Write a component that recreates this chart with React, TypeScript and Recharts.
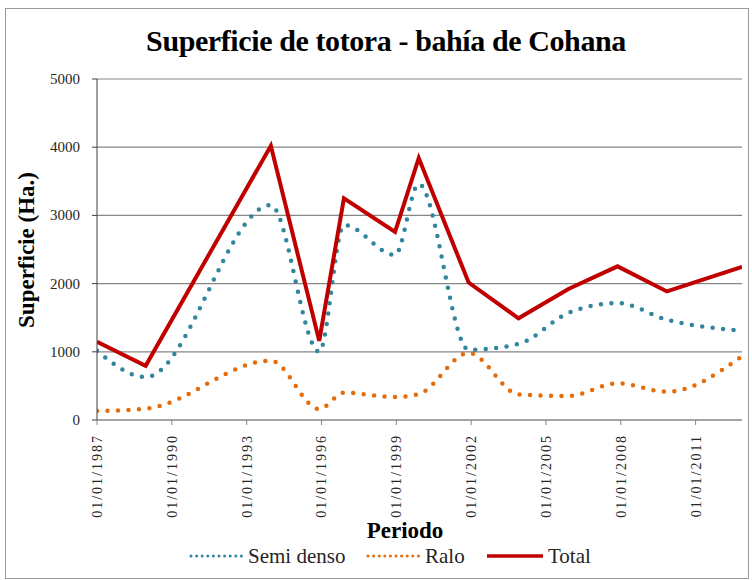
import { LineChart, Line, XAxis, YAxis, CartesianGrid } from 'recharts';

// dates as decimal years (first one is 01/01/1987)
const periodos = [1987, 1988.95, 1993.97, 1995.91, 1996.9, 1998.95, 1999.9, 2001.9, 2003.9, 2005.9, 2007.87, 2009.85, 2012.86];
const semiDenso = [1015, 630, 3150, 1000, 2860, 2420, 3460, 1030, 1115, 1570, 1715, 1470, 1310];
const ralo = [132, 165, 870, 160, 400, 337, 380, 985, 376, 352, 538, 415, 935];
const total = [1147, 795, 4020, 1160, 3250, 2757, 3840, 2015, 1491, 1922, 2253, 1885, 2245];

const xTicks = [1987, 1990, 1993, 1996, 1999, 2002, 2005, 2008, 2011];
const yTicks = [0, 1000, 2000, 3000, 4000, 5000];

const data = periodos.map((p, i) => ({
    periodo: p,
    semi: semiDenso[i],
    ralo: ralo[i],
    total: total[i],
}));

const serif = '"Liberation Serif", "Times New Roman", serif';

const DateTick = (props: any) => {
    const { x, y, payload } = props;
    return (
        <text
            x={0}
            y={0}
            transform={`translate(${x + 5},${y + 7}) rotate(-90)`}
            textAnchor="end"
            fontFamily={serif}
            fontSize={14}
            letterSpacing={2}
            fill="#262626"
        >
            {`01/01/${payload.value}`}
        </text>
    );
};

const ValueTick = (props: any) => {
    const { x, y, payload } = props;
    return (
        <text x={x} y={y} dy={5} textAnchor="end" fontFamily={serif} fontSize={15} fill="#262626">
            {payload.value}
        </text>
    );
};

const LegendItem = ({ color, dotted, label, left, lineWidth }: any) => (
    <div style={{ position: 'absolute', left, top: 0 }}>
        <svg width={lineWidth} height={16} style={{ position: 'absolute', left: 0, top: 548 }}>
            {dotted ? (
                <line x1={2} y1={8} x2={lineWidth - 1} y2={8} stroke={color} strokeWidth={3} strokeDasharray="0 5.6" strokeLinecap="round" />
            ) : (
                <line x1={0} y1={8} x2={lineWidth} y2={8} stroke={color} strokeWidth={3.5} />
            )}
        </svg>
        <span
            style={{
                position: 'absolute', left: lineWidth + 5, top: 546, whiteSpace: 'nowrap',
                fontFamily: serif, fontSize: 21, lineHeight: '21px', color: '#262626',
            }}
        >
            {label}
        </span>
    </div>
);

export default function App() {
    return (
        <div style={{ position: 'absolute', left: 0, top: 0, width: 752, height: 580, background: '#fff' }}>
            <div style={{ position: 'absolute', left: 5, top: 8, width: 742, height: 569, border: '1px solid #9a9a9a' }} />
            <div
                style={{
                    position: 'absolute', left: 0, top: 24, width: 772, textAlign: 'center', letterSpacing: -0.4,
                    fontFamily: serif, fontWeight: 'bold', fontSize: 30, color: '#000',
                }}
            >
                Superficie de totora - bahía de Cohana
            </div>
            <div
                style={{
                    position: 'absolute', left: 27, top: 250, transform: 'translate(-50%, -50%) rotate(-90deg)',
                    whiteSpace: 'nowrap', fontFamily: serif, fontWeight: 'bold', fontSize: 23,
                }}
            >
                Superficie (Ha.)
            </div>
            <div style={{ position: 'absolute', left: 0, top: 0 }}>
                <LineChart width={752} height={580} data={data} margin={{ top: 79, right: 10, left: 0, bottom: 0 }}>
                    <CartesianGrid horizontal vertical={false} stroke="#868686" strokeWidth={1.2} />
                    <XAxis
                        dataKey="periodo"
                        type="number"
                        domain={[1987, 2012.86]}
                        ticks={xTicks}
                        allowDataOverflow
                        height={160}
                        stroke="#868686"
                        tickSize={5}
                        tick={<DateTick />}
                        interval={0}
                    />
                    <YAxis
                        width={97}
                        domain={[0, 5000]}
                        ticks={yTicks}
                        stroke="#404040"
                        tickSize={5}
                        tickMargin={12}
                        tick={<ValueTick />}
                        interval={0}
                    />
                    <Line
                        type="monotone"
                        dataKey="semi"
                        stroke="#31859C"
                        strokeWidth={4.5}
                        strokeDasharray="0 10.5"
                        strokeLinecap="round"
                        dot={false}
                        isAnimationActive={false}
                    />
                    <Line
                        type="monotone"
                        dataKey="ralo"
                        stroke="#E46C0A"
                        strokeWidth={4.5}
                        strokeDasharray="0 10.5"
                        strokeLinecap="round"
                        dot={false}
                        isAnimationActive={false}
                    />
                    <Line
                        type="linear"
                        dataKey="total"
                        stroke="#C00000"
                        strokeWidth={4}
                        strokeLinejoin="miter"
                        dot={false}
                        isAnimationActive={false}
                    />
                </LineChart>
            </div>
            <div
                style={{
                    position: 'absolute', left: 405, top: 518, transform: 'translateX(-50%)',
                    fontFamily: serif, fontWeight: 'bold', fontSize: 23,
                }}
            >
                Periodo
            </div>
            <LegendItem color="#31859C" dotted label="Semi denso" left={189} lineWidth={54} />
            <LegendItem color="#E46C0A" dotted label="Ralo" left={366} lineWidth={54} />
            <LegendItem color="#C00000" label="Total" left={487} lineWidth={56} />
        </div>
    );
}
